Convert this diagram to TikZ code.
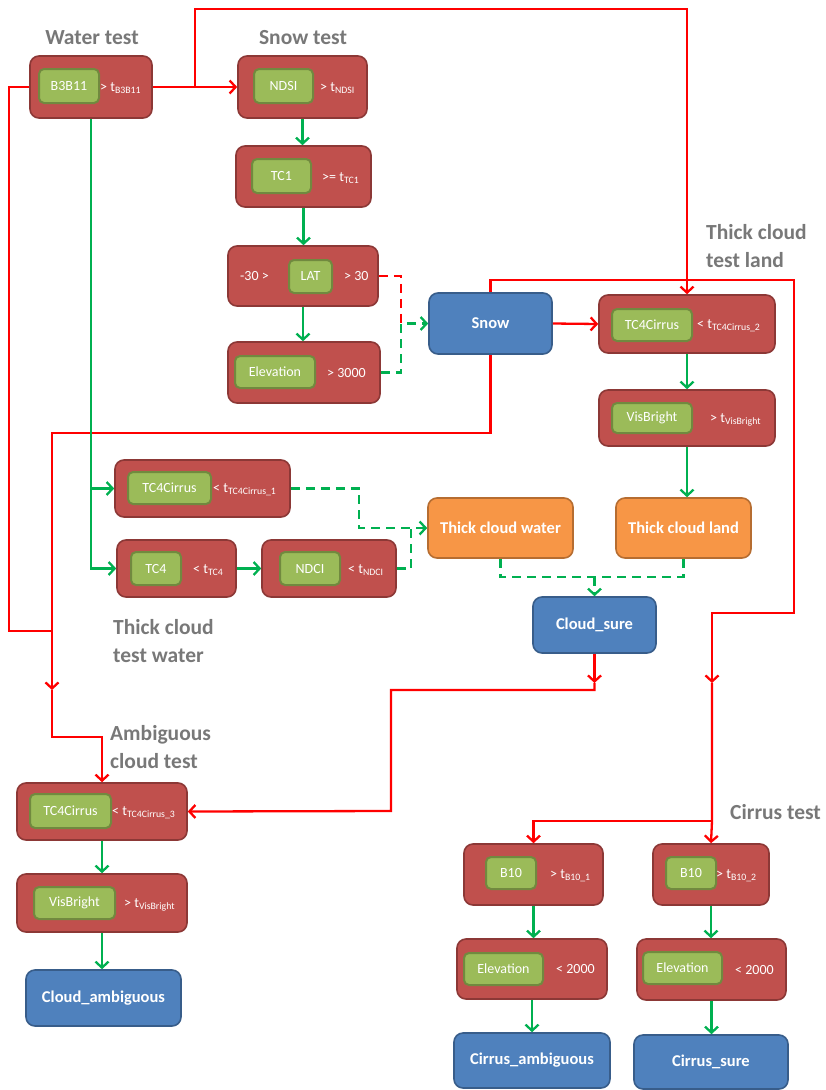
\documentclass[tikz,border=0pt]{standalone}
\usepackage{fontspec}
\setmainfont{Carlito}
\usetikzlibrary{arrows.meta}
\definecolor{tbfill}{RGB}{192,80,77}
\definecolor{tbdraw}{RGB}{140,56,54}
\definecolor{gbfill}{RGB}{155,187,89}
\definecolor{gbdraw}{RGB}{113,137,63}
\definecolor{blfill}{RGB}{79,129,189}
\definecolor{bldraw}{RGB}{56,93,138}
\definecolor{orfill}{RGB}{247,150,70}
\definecolor{ordraw}{RGB}{182,109,49}
\definecolor{ttlgray}{RGB}{120,120,120}
\definecolor{rline}{RGB}{255,0,0}
\definecolor{gline}{RGB}{0,176,80}
\newcommand\labfont{\fontsize{14}{16}\selectfont}
\newcommand\resfont{\fontsize{16.5}{19}\selectfont\bfseries}
\newcommand\ttlfont{\fontsize{21.5}{28}\selectfont\bfseries}
\tikzset{
  tb/.style={draw=tbdraw, fill=tbfill, line width=1.6pt, rounded corners=9pt, inner sep=0pt},
  gb/.style={draw=gbdraw, fill=gbfill, line width=2pt, rounded corners=5pt, inner sep=0pt, text=white, font=\labfont},
  blue/.style={draw=bldraw, fill=blfill, line width=1.6pt, rounded corners=9pt, inner sep=0pt, text=white, font=\resfont},
  orange/.style={draw=ordraw, fill=orfill, line width=1.6pt, rounded corners=9pt, inner sep=0pt, text=white, font=\resfont},
  lbl/.style={text=white, font=\labfont, inner sep=0pt, anchor=west},
  ttl/.style={text=ttlgray, font=\ttlfont, inner sep=0pt, align=left},
  rl/.style={draw=rline, line width=2.3pt},
  gl/.style={draw=gline, line width=2.3pt},
  gd/.style={draw=gline, line width=2.3pt, dash pattern=on 9pt off 6pt},
  rd/.style={draw=rline, line width=2.3pt, dash pattern=on 9pt off 6pt},
  tip/.style={-{Straight Barb[length=6pt,width=13pt]}}
}
\begin{document}
\begin{tikzpicture}[x=1pt,y=-1pt]
\useasboundingbox (0,0) rectangle (825,1090);
% titles
\node[ttl] (t1) at (92,38) {Water test};
\node[ttl] (t2) at (303,38) {Snow test};
\node[ttl, anchor=west] (t3) at (706,246) {Thick cloud\\test land};
\node[ttl, anchor=west] (t4) at (113,641) {Thick cloud\\test water};
\node[ttl, anchor=west] (t5) at (110,747) {Ambiguous\\cloud test};
\node[ttl, anchor=west] (t6) at (730,812) {Cirrus test};
% red test boxes
\node[tb, minimum width=122pt, minimum height=62pt] (water) at (91,87) {};
\node[tb, minimum width=129pt, minimum height=62pt] (ndsi) at (302.5,87) {};
\node[tb, minimum width=135pt, minimum height=61pt] (tc1) at (303.5,176.5) {};
\node[tb, minimum width=150pt, minimum height=60pt] (lat) at (303,276) {};
\node[tb, minimum width=152pt, minimum height=61pt] (elev) at (304,372.5) {};
\node[tb, minimum width=176pt, minimum height=58pt] (tcland) at (687,324) {};
\node[tb, minimum width=176pt, minimum height=56pt] (visland) at (687,418) {};
\node[tb, minimum width=175pt, minimum height=57pt] (tcwater) at (202.5,488.5) {};
\node[tb, minimum width=119pt, minimum height=57pt] (tc4) at (176.5,568.5) {};
\node[tb, minimum width=134pt, minimum height=57pt] (ndci) at (329,568.5) {};
\node[tb, minimum width=170pt, minimum height=57pt] (amb1) at (102,811.5) {};
\node[tb, minimum width=170pt, minimum height=58pt] (amb2) at (102,903) {};
\node[tb, minimum width=139pt, minimum height=61pt] (b10a) at (533.5,874.5) {};
\node[tb, minimum width=116pt, minimum height=61pt] (b10b) at (711,874.5) {};
\node[tb, minimum width=150pt, minimum height=60pt] (ela) at (532,969) {};
\node[tb, minimum width=149pt, minimum height=61pt] (elb) at (711.5,969.5) {};
% green inner boxes
\node[gb, minimum width=60pt, minimum height=34pt] (g1) at (69,86) {B3B11};
\node[gb, minimum width=59pt, minimum height=34pt] (g2) at (283.5,86) {NDSI};
\node[gb, minimum width=59pt, minimum height=34pt] (g3) at (281.5,176) {TC1};
\node[gb, minimum width=43pt, minimum height=33pt] (g4) at (310.5,276.5) {LAT};
\node[gb, minimum width=80pt, minimum height=32pt] (g5) at (275,372) {Elevation};
\node[gb, minimum width=80pt, minimum height=32pt] (g6) at (652,325) {TC4Cirrus};
\node[gb, minimum width=80pt, minimum height=30pt] (g7) at (652,418) {VisBright};
\node[gb, minimum width=83pt, minimum height=32pt] (g8) at (169.5,488) {TC4Cirrus};
\node[gb, minimum width=50pt, minimum height=33pt] (g9) at (156,568.5) {TC4};
\node[gb, minimum width=60pt, minimum height=33pt] (g10) at (310,568.5) {NDCI};
\node[gb, minimum width=81pt, minimum height=34pt] (g11) at (70.5,811) {TC4Cirrus};
\node[gb, minimum width=81pt, minimum height=32pt] (g12) at (74.5,903) {VisBright};
\node[gb, minimum width=50pt, minimum height=32pt] (g13) at (511,873) {B10};
\node[gb, minimum width=50pt, minimum height=32pt] (g14) at (691,873) {B10};
\node[gb, minimum width=79pt, minimum height=32pt] (g15) at (503.5,969) {Elevation};
\node[gb, minimum width=79pt, minimum height=32pt] (g16) at (682.5,968) {Elevation};
% threshold labels
\node[lbl] (l1) at (100,88) {> t\textsubscript{B3B11}};
\node[lbl] (l2) at (320,88) {> t\textsubscript{NDSI}};
\node[lbl] (l3) at (322,178) {>= t\textsubscript{TC1}};
\node[lbl] (l4a) at (240,276) {-30 >};
\node[lbl] (l4b) at (344,276) {> 30};
\node[lbl] (l5) at (327,373) {> 3000};
\node[lbl] (l6) at (697,326) {< t\textsubscript{TC4Cirrus\_2}};
\node[lbl] (l7) at (710,420) {> t\textsubscript{VisBright}};
\node[lbl] (l8) at (213,490) {< t\textsubscript{TC4Cirrus\_1}};
\node[lbl] (l9) at (193,570) {< t\textsubscript{TC4}};
\node[lbl] (l10) at (348,570) {< t\textsubscript{NDCI}};
\node[lbl] (l11) at (112,813) {< t\textsubscript{TC4Cirrus\_3}};
\node[lbl] (l12) at (124,905) {> t\textsubscript{VisBright}};
\node[lbl] (l13) at (550,876) {> t\textsubscript{B10\_1}};
\node[lbl] (l14) at (716,876) {> t\textsubscript{B10\_2}};
\node[lbl] (l15) at (556,969) {< 2000};
\node[lbl] (l16) at (735,970) {< 2000};
% result boxes
\node[blue, minimum width=123pt, minimum height=61pt] (snow) at (490.5,323.5) {Snow};
\node[orange, minimum width=145pt, minimum height=60pt] (tcw) at (500.5,528) {Thick cloud water};
\node[orange, minimum width=135pt, minimum height=60pt] (tcl) at (683.5,528) {Thick cloud land};
\node[blue, minimum width=123pt, minimum height=56pt] (csure) at (594.5,625) {Cloud\_sure};
\node[blue, minimum width=155pt, minimum height=56pt] (camb) at (103.5,998) {Cloud\_ambiguous};
\node[blue, minimum width=156pt, minimum height=55pt] (cirramb) at (532,1060.5) {Cirrus\_ambiguous};
\node[blue, minimum width=154pt, minimum height=54pt] (cirrsure) at (711,1062) {Cirrus\_sure};
% helper coordinates
\coordinate (j1) at (195,87);
\coordinate (ytop) at (0,9);
\coordinate (y433) at (0,433);
\coordinate (y280) at (0,280);
\coordinate (y577) at (0,577);
\coordinate (jw) at (52,631);
\coordinate (ma) at (52,690);
\coordinate (mb) at (712,683);
\coordinate (mc) at (594.5,683);
\coordinate (jc) at (712,821);
% red connectors
\draw[rl, tip] (water.east) -- (ndsi.west);
\draw[rl, tip] (j1) |- (tcland.north |- ytop) -- (tcland.north);
\draw[rl] (water.west) -- (9,87) |- (jw);
\draw[rl, tip] (snow.south) -- (snow.south |- y433) -| (ma);
\draw[rl, tip] (ma) -- (52,737) -| (amb1.north);
\draw[rl, tip] (snow.north) -- (snow.north |- y280) -| (794,613) -| (mb);
\draw[rl, tip] (mb) -- (jc) -- (b10b.north);
\draw[rl, tip] (jc) -| (b10a.north);
\draw[rl, tip] (snow.east) -- (tcland.west);
\draw[rl, tip] (csure.south) -- (mc);
\draw[rl, tip] (mc) -- (594.5,690) -| (391,811) -- (amb1.east);
% green connectors
\draw[gl, tip] (water.south) |- (tcwater.west);
\draw[gl, tip] (water.south) |- (tc4.west);
\draw[gl, tip] (tc4.east) -- (ndci.west);
\draw[gl, tip] (ndsi.south) -- (ndsi.south |- tc1.north);
\draw[gl, tip] (tc1.south) -- (tc1.south |- lat.north);
\draw[gl, tip] (lat.south) -- (lat.south |- elev.north);
\draw[gl, tip] (tcland.south) -- (visland.north);
\draw[gl, tip] (visland.south) -- (visland.south |- tcl.north);
\draw[gl, tip] (amb1.south) -- (amb2.north);
\draw[gl, tip] (amb2.south) -- (amb2.south |- camb.north);
\draw[gl, tip] (b10a.south) -- (b10a.south |- ela.north);
\draw[gl, tip] (ela.south) -- (ela.south |- cirramb.north);
\draw[gl, tip] (b10b.south) -- (b10b.south |- elb.north);
\draw[gl, tip] (elb.south) -- (elb.south |- cirrsure.north);
% dashed connectors
\draw[rd] (lat.east) -- (401,276) -- (401,323.5);
\draw[gd, tip] (elev.east) -- (401,372.5) |- (snow.west);
\draw[gd, tip] (tcwater.east) -- (359,488.5) |- (tcw.west);
\draw[gd] (ndci.east) -- (411,568.5) -- (411,528);
\draw[gd] (tcw.south) |- (tcl.south |- y577) -- (tcl.south);
\draw[gd, tip] (csure.north |- y577) -- (csure.north);
\end{tikzpicture}
\end{document}
